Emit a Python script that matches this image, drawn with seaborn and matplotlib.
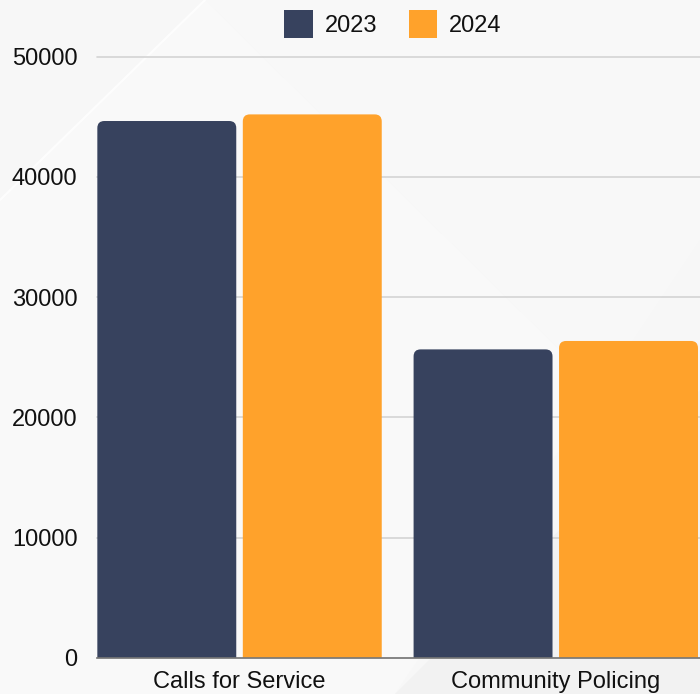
import matplotlib
matplotlib.use("Agg")
import matplotlib.pyplot as plt
import pandas as pd
import seaborn as sns
from matplotlib.patches import FancyBboxPatch, Polygon, Patch

# Data
categories = ["Calls for Service", "Community Policing"]
years = ["2023", "2024"]
values_2023 = [44650, 25650]
values_2024 = [45200, 26350]
y_ticks = [0, 10000, 20000, 30000, 40000, 50000]
palette = ["#37425e", "#ffa22b"]

df = pd.DataFrame({
    "category": categories * 2,
    "year": [years[0]] * len(categories) + [years[1]] * len(categories),
    "value": values_2023 + values_2024,
})

sns.set_theme(style="white")
plt.rcParams["font.family"] = ["Liberation Sans", "DejaVu Sans"]

W, H = 700, 694
fig = plt.figure(figsize=(W / 100, H / 100), dpi=100, facecolor="#f7f7f7")

# Subtle background facets
bg = fig.add_axes([0, 0, 1, 1], zorder=-5)
bg.set_xlim(0, W)
bg.set_ylim(H, 0)
bg.axis("off")
bg.add_patch(Polygon([(0, 200), (205, 0), (600, 390), (395, 694), (0, 694)],
                     closed=True, fc="#f9f9f9", ec="none"))
bg.add_patch(Polygon([(205, 0), (700, 0), (700, 240), (600, 390)],
                     closed=True, fc="#f8f8f8", ec="none"))
bg.add_patch(Polygon([(395, 694), (700, 390), (700, 694)],
                     closed=True, fc="#f2f2f2", ec="none"))
bg.plot([0, 205], [200, 0], color="#ffffff", lw=1.5, alpha=0.8)

# Plot area
left, right, top, bottom = 97, 700, 56.7, 657.7
ax = fig.add_axes([left / W, (H - bottom) / H, (right - left) / W, (bottom - top) / H])
ax.patch.set_alpha(0)

sns.barplot(data=df, x="category", y="value", hue="year", palette=palette,
            saturation=1, width=0.92, gap=0.045, ax=ax, legend=False, zorder=2)

ax.set_xlim(-0.4507, 1.456)
ax.set_ylim(0, 50000)

# Rounded tops for the bars
xlim, ylim = ax.get_xlim(), ax.get_ylim()
px_x = (right - left) / (xlim[1] - xlim[0])
px_y = (bottom - top) / (ylim[1] - ylim[0])
radius_px = 7
rx = radius_px / px_x
ry = radius_px / px_y
for bar in list(ax.patches):
    x, w, h = bar.get_x(), bar.get_width(), bar.get_height()
    fc = bar.get_facecolor()
    bar.remove()
    ax.add_patch(FancyBboxPatch((x, -ry), w, h + ry,
                                boxstyle=f"round,pad=0,rounding_size={rx}",
                                mutation_aspect=ry / rx, fc=fc, ec="none", zorder=2))

# Axes styling
ax.set_yticks(y_ticks)
ax.set_yticklabels([str(t) for t in y_ticks])
ax.set_xlabel("")
ax.set_ylabel("")
ax.yaxis.grid(True, color="#d4d4d4", lw=1.2)
for gl in ax.get_ygridlines():
    gl.set_clip_on(False)
ax.set_axisbelow(True)
for s in ["left", "right", "top"]:
    ax.spines[s].set_visible(False)
ax.spines["bottom"].set_color("#777777")
ax.spines["bottom"].set_linewidth(1.2)
ax.tick_params(axis="y", length=0, pad=14, labelsize=17, labelcolor="#111111")
ax.tick_params(axis="x", length=0, pad=9.5, labelsize=17, labelcolor="#111111")

# Legend
handles = [Patch(facecolor=c, edgecolor="none", label=y) for c, y in zip(palette, years)]
fig.legend(handles=handles, loc="center", bbox_to_anchor=(393 / W, 1 - 24 / H),
           ncol=2, frameon=False, fontsize=17, handlelength=1.2, handleheight=1.45,
           handletextpad=0.5, columnspacing=1.35, borderpad=0, borderaxespad=0,
           labelcolor="#111111")

fig.savefig("out.png", dpi=100, facecolor=fig.get_facecolor())
